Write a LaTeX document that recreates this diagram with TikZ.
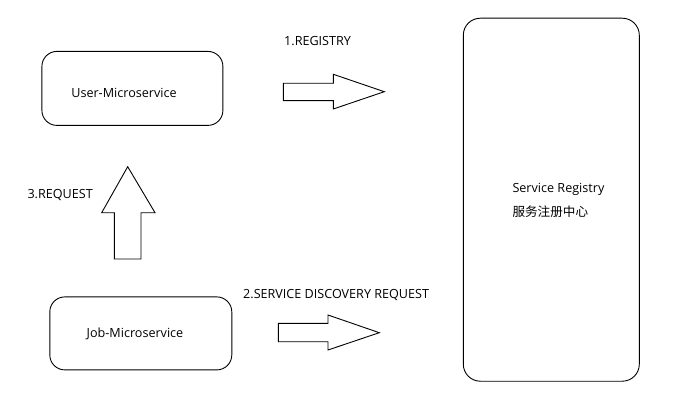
\documentclass[tikz,border=0pt]{standalone}
\usepackage{fontspec}
\setmainfont{Open Sans}
\newfontfamily\cjk{Noto Sans CJK SC}
\tikzset{
  box/.style={draw,rounded corners=15pt,line width=0.9pt,inner sep=0pt},
  txt/.style={font=\fontsize{12.6}{14}\selectfont,inner sep=0pt},
  blockarrow/.style={draw,line width=0.9pt,line join=miter},
}
\begin{document}
\begin{tikzpicture}[x=1pt,y=-1pt]
  \useasboundingbox (0,0) rectangle (684,403);
  % the three boxes
  \node[box,minimum width=181pt,minimum height=74pt] (user) at (132.4,88.4) {};
  \node[box,minimum width=182pt,minimum height=73pt] (job) at (140.8,333.4) {};
  \node[box,rounded corners=17pt,minimum width=176pt,minimum height=363pt] (registry) at (551.3,199.7) {};
  \node[txt] (usertxt) at (124,92.7) {User-Microservice};
  \node[txt] (jobtxt) at (135,334.3) {Job-Microservice};
  \node[txt,anchor=west] (regtxt) at (512.3,189) {Service Registry};
  \node[txt,anchor=west] (regcn) at (512.3,211.7) {\cjk 服务注册中心};
  % labels of the steps
  \node[txt,anchor=west] (step1) at (284,41) {1.REGISTRY};
  \node[txt,anchor=west] (step2) at (243,295) {2.SERVICE DISCOVERY REQUEST};
  \node[txt,anchor=west] (step3) at (27.3,195) {3.REQUEST};
  % block arrows
  \draw[blockarrow] (283.3,83.3) -- (333.3,83.3) -- (333.3,74.3) -- (384.3,91.7)
    -- (333.3,109) -- (333.3,100.7) -- (283.3,100.7) -- cycle;
  \draw[blockarrow] (278.3,323.3) -- (328,323.3) -- (328,315) -- (379.3,332.7)
    -- (328,350) -- (328,341.7) -- (278.3,341.7) -- cycle;
  \draw[blockarrow] (114.3,259) -- (114.3,212.7) -- (101.7,212.7) -- (127.7,166.7)
    -- (155,212.7) -- (141,212.7) -- (141,259) -- cycle;
\end{tikzpicture}
\end{document}
